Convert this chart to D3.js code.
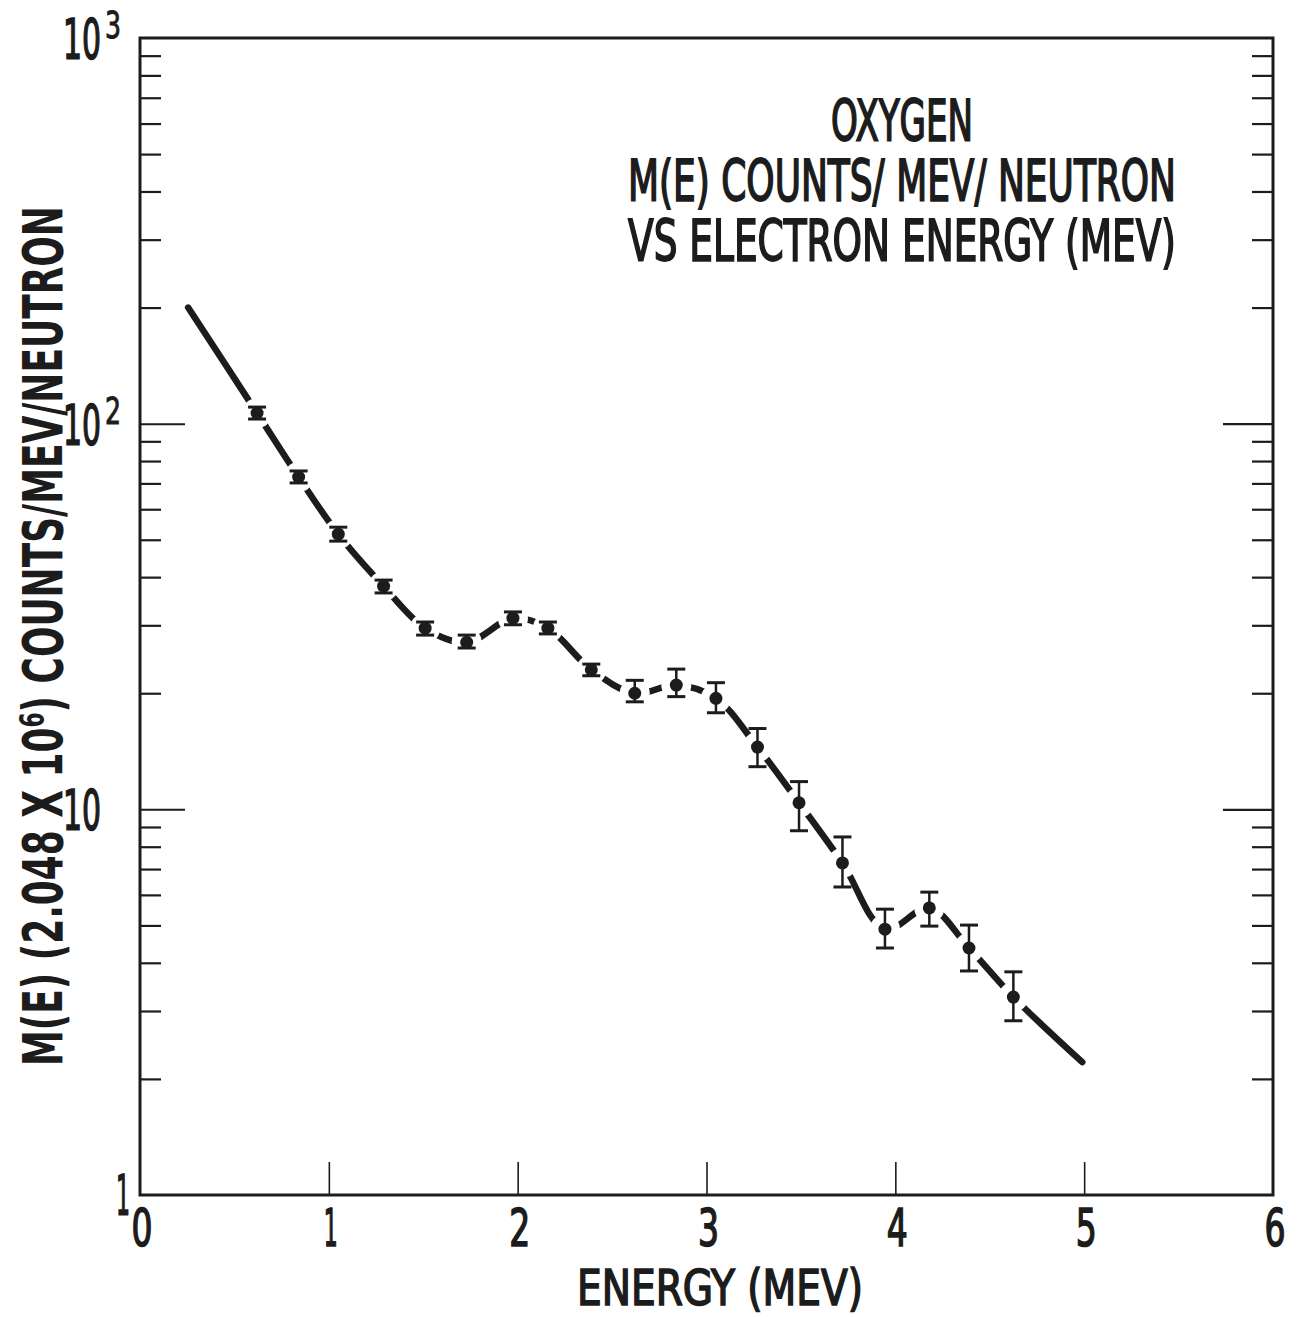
<!DOCTYPE html>
<html>
<head>
<meta charset="utf-8">
<script src="https://cdn.jsdelivr.net/npm/d3@7"></script>
<style>
  body { margin: 0; background: #fff; }
  svg { display: block; }
  text { font-family: "Liberation Sans Narrow", "DejaVu Sans Condensed", "DejaVu Sans", sans-serif; fill: #1c1c1c; }
</style>
</head>
<body>
<script>
// Data

const energy = [0.62, 0.84, 1.05, 1.29, 1.51, 1.73, 1.975, 2.16, 2.39, 2.62, 2.84, 3.05, 3.27, 3.49, 3.72, 3.945, 4.18, 4.39, 4.625];
const counts = [106.5, 72.7, 51.7, 37.9, 29.5, 27.1, 31.3, 29.5, 23.0, 20.0, 21.0, 19.4, 14.5, 10.4, 7.26, 4.89, 5.55, 4.37, 3.26];
const errLow = [102.8, 70.2, 49.6, 36.4, 28.3, 26.2, 30.1, 28.5, 22.2, 19.0, 19.6, 17.8, 12.9, 8.8, 6.29, 4.37, 4.98, 3.81, 2.83];
const errHigh = [110.4, 75.4, 53.9, 39.3, 30.6, 28.3, 32.5, 30.6, 23.8, 21.6, 23.1, 21.3, 16.2, 11.8, 8.48, 5.51, 6.10, 5.01, 3.79];

// fitted curve runs a little beyond the measured points
const curveStart = { e: 0.255, v: 200 };
const curveEnd = { e: 4.99, v: 2.21 };

const xTicks = [0, 1, 2, 3, 4, 5, 6];
const yLabels = [
	{ v: 1000, base: '10', exp: '3' },
	{ v: 100, base: '10', exp: '2' },
	{ v: 10, base: '10', exp: '' },
	{ v: 1, base: '1', exp: '' },
];

const notes = ['OXYGEN', 'M(E) COUNTS/ MEV/ NEUTRON', 'VS ELECTRON ENERGY (MEV)'];

// Constants

const width = 1303;
const height = 1317;
const margin = { top: 38, right: 30, bottom: 122, left: 140 };
const ink = '#1c1c1c';

const x = d3
	.scaleLinear()
	.domain([0, 6])
	.range([margin.left, width - margin.right]);

const y = d3
	.scaleLog()
	.domain([1, 1000])
	.range([height - margin.bottom, margin.top]);

const yMinor = [];
[1, 10, 100].forEach((d) => {
	for (let k = 2; k <= 9; k++) yMinor.push(d * k);
});

const svg = d3
	.select('body')
	.append('svg')
	.attr('width', width)
	.attr('height', height);

// squeeze a text horizontally so its ink is w pixels wide (lettering is tall and narrow)
const fit = (sel, px, py, w, extra = '') =>
	sel.each(function () {
		const bw = this.getBBox().width || 1;
		d3.select(this).attr('transform', `translate(${px},${py}) ${extra} scale(${w / bw},1)`);
	});

// Axes: ticks point inward

const clean = (g) => {
	g.select('.domain').remove();
	g.selectAll('line').attr('stroke', ink);
};

svg
	.append('g')
	.attr('transform', `translate(0,${y(1)})`)
	.call(d3.axisBottom(x).tickValues(xTicks.slice(1, -1)).tickSizeInner(-33).tickSizeOuter(0).tickFormat(''))
	.call(clean)
	.call((g) => g.selectAll('line').attr('stroke-width', 1.6));

svg
	.append('g')
	.attr('transform', `translate(${x(0)},0)`)
	.call(d3.axisLeft(y).tickValues(yMinor).tickSize(-21).tickFormat(''))
	.call(clean)
	.call((g) => g.selectAll('line').attr('stroke-width', 2.2));

svg
	.append('g')
	.attr('transform', `translate(${x(0)},0)`)
	.call(d3.axisLeft(y).tickValues([10, 100]).tickSize(-45).tickFormat(''))
	.call(clean)
	.call((g) => g.selectAll('line').attr('stroke-width', 2));

svg
	.append('g')
	.attr('transform', `translate(${x(6)},0)`)
	.call(d3.axisRight(y).tickValues(yMinor).tickSize(-21).tickFormat(''))
	.call(clean)
	.call((g) => g.selectAll('line').attr('stroke-width', 2.2));

svg
	.append('g')
	.attr('transform', `translate(${x(6)},0)`)
	.call(d3.axisRight(y).tickValues([10, 100]).tickSize(-50).tickFormat(''))
	.call(clean)
	.call((g) => g.selectAll('line').attr('stroke-width', 2.4));

// frame
svg
	.append('rect')
	.attr('x', x(0))
	.attr('y', y(1000))
	.attr('width', x(6) - x(0))
	.attr('height', y(1) - y(1000))
	.attr('fill', 'none')
	.attr('stroke', ink)
	.attr('stroke-width', 3);

// Tick labels

svg
	.append('g')
	.attr('font-size', 52)
	.attr('text-anchor', 'middle')
	.attr('stroke', ink)
	.attr('stroke-width', 1.6)
	.selectAll('text')
	.data(xTicks)
	.join('text')
	.text((d) => d)
	.each(function (d) {
		fit(d3.select(this), x(d) + 2, y(1) + 51, d === 1 ? 14 : 21);
	});

const yl = svg
	.append('g')
	.attr('stroke', ink)
	.attr('stroke-width', 1.6)
	.selectAll('g')
	.data(yLabels)
	.join('g')
	.attr('transform', (d) => `translate(0,${y(d.v)})`);

yl.append('text')
	.attr('font-size', 56)
	.attr('text-anchor', 'end')
	.text((d) => d.base)
	.each(function (d) {
		if (d.base === '1') fit(d3.select(this), 130, 19, 14);
		else fit(d3.select(this), 101, 20, 38);
	});

yl.filter((d) => d.exp)
	.append('text')
	.attr('font-size', 38)
	.attr('stroke-width', 1)
	.text((d) => d.exp)
	.each(function () {
		fit(d3.select(this), 105, 0, 16);
	});

// Axis titles

svg
	.append('text')
	.attr('font-size', 50)
	.attr('text-anchor', 'middle')
	.attr('stroke', ink)
	.attr('stroke-width', 1.6)
	.text('ENERGY (MEV)')
	.call(fit, 720, 1305, 286);

const yTitle = svg
	.append('text')
	.attr('font-size', 56)
	.attr('font-weight', 'bold')
	.attr('text-anchor', 'middle');
yTitle.append('tspan').text('M(E) (2.048 X 10');
yTitle.append('tspan').attr('font-size', 34).attr('dy', -18).text('6');
yTitle.append('tspan').attr('dy', 18).text(')  COUNTS/MEV/NEUTRON');
yTitle.call(fit, 62, 636, 860, 'rotate(-90)');

// Annotation

svg
	.append('g')
	.attr('font-size', 57)
	.attr('text-anchor', 'middle')
	.attr('stroke', ink)
	.attr('stroke-width', 1.8)
	.selectAll('text')
	.data(notes)
	.join('text')
	.text((d) => d)
	.each(function (d, i) {
		fit(d3.select(this), 902, 141 + i * 60, i === 0 ? 142 : 548);
	});

// Dashed fitted curve, broken around each measured point

const points = energy.map((e, i) => ({ e, v: counts[i], lo: errLow[i], hi: errHigh[i] }));
const path = [curveStart, ...points, curveEnd];

const line = d3
	.line()
	.x((d) => x(d.e))
	.y((d) => y(d.v))
	.curve(d3.curveCatmullRom.alpha(0.5));

const mask = svg.append('defs').append('mask').attr('id', 'gaps');
mask.append('rect').attr('width', width).attr('height', height).attr('fill', '#fff');
mask
	.selectAll('circle')
	.data(points)
	.join('circle')
	.attr('cx', (d) => x(d.e))
	.attr('cy', (d) => y(d.v))
	.attr('r', 15)
	.attr('fill', '#000');

svg
	.append('path')
	.datum(path)
	.attr('d', line)
	.attr('fill', 'none')
	.attr('stroke', ink)
	.attr('stroke-width', 6.5)
	.attr('stroke-linecap', 'round')
	.attr('mask', 'url(#gaps)');

// Points with error bars

const pts = svg.append('g').attr('stroke', ink).attr('fill', ink);

pts
	.selectAll('line.bar')
	.data(points)
	.join('line')
	.attr('class', 'bar')
	.attr('x1', (d) => x(d.e))
	.attr('x2', (d) => x(d.e))
	.attr('y1', (d) => y(d.lo))
	.attr('y2', (d) => y(d.hi))
	.attr('stroke-width', 2.5);

pts
	.selectAll('line.cap')
	.data(points.flatMap((d) => [{ e: d.e, v: d.lo }, { e: d.e, v: d.hi }]))
	.join('line')
	.attr('class', 'cap')
	.attr('x1', (d) => x(d.e) - 9)
	.attr('x2', (d) => x(d.e) + 9)
	.attr('y1', (d) => y(d.v))
	.attr('y2', (d) => y(d.v))
	.attr('stroke-width', 3);

pts
	.selectAll('circle')
	.data(points)
	.join('circle')
	.attr('cx', (d) => x(d.e))
	.attr('cy', (d) => y(d.v))
	.attr('r', 6.5)
	.attr('stroke', 'none');
</script>
</body>
</html>
